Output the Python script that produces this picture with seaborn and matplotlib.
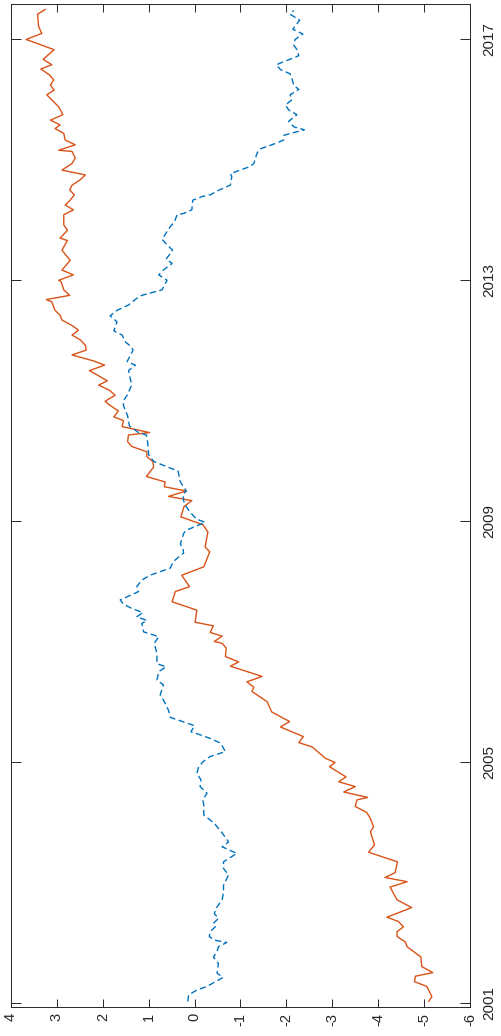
import numpy as np
import matplotlib
matplotlib.use('Agg')
import matplotlib.pyplot as plt
import seaborn as sns

# values (time in decimal years, value on the horizontal scale)
orange_t = [2001.02, 2001.10, 2001.27, 2001.35, 2001.44, 2001.50, 2001.60, 2001.76, 2001.93, 2002.01,
            2002.10, 2002.18, 2002.26, 2002.35, 2002.42, 2002.58, 2002.71, 2002.92, 2003.01, 2003.08,
            2003.16, 2003.23, 2003.34, 2003.50, 2003.62, 2003.84, 2003.92, 2004.06, 2004.16, 2004.26,
            2004.37, 2004.41, 2004.50, 2004.59, 2004.67, 2004.75, 2004.92, 2004.99, 2005.06, 2005.25,
            2005.32, 2005.42, 2005.58, 2005.67, 2005.83, 2006.00, 2006.17, 2006.24, 2006.33, 2006.42,
            2006.59, 2006.66, 2006.75, 2006.89, 2006.97, 2007.00, 2007.09, 2007.15, 2007.26, 2007.32,
            2007.52, 2007.66, 2007.83, 2007.91, 2008.10, 2008.24, 2008.49, 2008.57, 2008.82, 2008.94,
            2009.07, 2009.24, 2009.34, 2009.41, 2009.50, 2009.57, 2009.65, 2009.74, 2009.90, 2009.99,
            2010.07, 2010.15, 2010.24, 2010.32, 2010.43, 2010.47, 2010.57, 2010.67, 2010.73, 2010.83,
            2010.92, 2010.99, 2011.09, 2011.17, 2011.26, 2011.33, 2011.50, 2011.59, 2011.66, 2011.76,
            2011.84, 2011.92, 2012.01, 2012.09, 2012.17, 2012.24, 2012.34, 2012.42, 2012.50, 2012.64,
            2012.68, 2012.75, 2012.84, 2012.98, 2013.00, 2013.09, 2013.17, 2013.33, 2013.50, 2013.66,
            2013.70, 2013.83, 2013.92, 2014.09, 2014.17, 2014.25, 2014.33, 2014.42, 2014.50, 2014.58,
            2014.67, 2014.75, 2014.83, 2014.94, 2015.03, 2015.14, 2015.16, 2015.25, 2015.33, 2015.44,
            2015.52, 2015.58, 2015.66, 2015.75, 2015.88, 2016.08, 2016.16, 2016.24, 2016.33, 2016.41,
            2016.51, 2016.58, 2016.67, 2016.83, 2017.00, 2017.10, 2017.22, 2017.42, 2017.50]
orange_v = [-5.10, -5.17, -5.06, -4.79, -4.81, -5.19, -4.95, -4.93, -4.63, -4.59,
            -4.41, -4.41, -4.55, -4.44, -4.19, -4.73, -4.41, -4.26, -4.63, -4.15,
            -4.37, -4.39, -4.42, -3.79, -3.92, -3.83, -3.90, -3.83, -3.75, -3.50,
            -3.54, -3.77, -3.25, -3.50, -3.14, -3.30, -2.94, -3.06, -2.85, -2.56,
            -2.27, -2.37, -1.87, -2.07, -1.68, -1.58, -1.25, -1.29, -1.14, -1.47,
            -0.78, -0.96, -0.67, -0.69, -0.60, -0.43, -0.60, -0.34, -0.41, -0.01,
            -0.05, 0.49, 0.42, 0.11, 0.28, -0.20, -0.33, -0.23, -0.29, -0.18,
            0.30, 0.23, 0.06, 0.57, 0.18, 0.66, 0.64, 1.05, 0.89, 0.91,
            1.04, 1.04, 1.37, 1.46, 1.44, 0.98, 1.58, 1.55, 1.76, 1.66,
            1.84, 1.95, 1.73, 1.85, 2.09, 1.90, 2.29, 1.96, 2.20, 2.67,
            2.36, 2.38, 2.49, 2.67, 2.53, 2.65, 2.89, 2.93, 3.04, 3.11,
            3.23, 2.72, 2.85, 2.91, 2.96, 2.64, 2.89, 2.71, 2.89, 2.77,
            2.93, 2.77, 2.85, 2.85, 2.64, 2.82, 2.71, 2.62, 2.72, 2.67,
            2.49, 2.38, 2.89, 2.67, 2.60, 2.67, 2.96, 2.60, 2.82, 2.85,
            3.04, 2.93, 3.14, 2.87, 2.96, 3.22, 3.06, 3.14, 3.07, 3.16,
            3.35, 3.11, 3.30, 3.06, 3.67, 3.33, 3.40, 3.42, 3.25]

blue_t = [2001.02, 2001.13, 2001.21, 2001.27, 2001.42, 2001.49, 2001.65, 2001.76, 2001.85, 2001.93,
          2002.00, 2002.04, 2002.10, 2002.18, 2002.26, 2002.32, 2002.40, 2002.48, 2002.57, 2002.71,
          2002.84, 2002.95, 2003.12, 2003.23, 2003.34, 2003.48, 2003.59, 2003.67, 2003.79, 2003.98,
          2004.12, 2004.28, 2004.37, 2004.48, 2004.59, 2004.70, 2004.81, 2004.92, 2005.00, 2005.09,
          2005.17, 2005.31, 2005.39, 2005.48, 2005.50, 2005.60, 2005.74, 2005.86, 2006.03, 2006.11,
          2006.28, 2006.36, 2006.50, 2006.58, 2006.63, 2006.80, 2006.97, 2007.08, 2007.16, 2007.30,
          2007.35, 2007.41, 2007.48, 2007.55, 2007.62, 2007.69, 2007.83, 2007.91, 2008.02, 2008.10,
          2008.22, 2008.33, 2008.47, 2008.54, 2008.62, 2008.79, 2008.84, 2008.90, 2008.98, 2009.03,
          2009.14, 2009.26, 2009.34, 2009.45, 2009.50, 2009.65, 2009.83, 2009.99, 2010.10, 2010.29,
          2010.43, 2010.47, 2010.58, 2010.75, 2010.92, 2011.00, 2011.09, 2011.26, 2011.50, 2011.59,
          2011.65, 2011.84, 2011.90, 2011.98, 2012.09, 2012.16, 2012.31, 2012.41, 2012.50, 2012.59,
          2012.70, 2012.75, 2012.84, 2013.00, 2013.09, 2013.17, 2013.28, 2013.35, 2013.50, 2013.59,
          2013.68, 2013.89, 2013.97, 2014.09, 2014.11, 2014.17, 2014.33, 2014.39, 2014.42, 2014.50,
          2014.58, 2014.72, 2014.77, 2014.89, 2014.94, 2015.11, 2015.18, 2015.28, 2015.33, 2015.41,
          2015.50, 2015.55, 2015.64, 2015.75, 2015.83, 2015.91, 2016.00, 2016.08, 2016.17, 2016.24,
          2016.35, 2016.43, 2016.50, 2016.58, 2016.73, 2016.83, 2016.91, 2017.00, 2017.09, 2017.17,
          2017.32, 2017.42, 2017.48]
blue_v = [0.15, 0.13, -0.05, -0.27, -0.62, -0.49, -0.52, -0.41, -0.49, -0.52,
          -0.70, -0.43, -0.32, -0.34, -0.45, -0.41, -0.52, -0.43, -0.47, -0.60,
          -0.63, -0.63, -0.74, -0.63, -0.63, -0.92, -0.60, -0.74, -0.63, -0.43,
          -0.20, -0.20, -0.18, -0.27, -0.12, -0.14, -0.05, -0.09, -0.18, -0.34,
          -0.67, -0.57, -0.34, -0.01, 0.08, 0.00, 0.53, 0.57, 0.68, 0.75,
          0.68, 0.82, 0.78, 0.62, 0.82, 0.82, 0.88, 0.78, 1.11, 1.15,
          1.04, 1.26, 1.13, 1.37, 1.55, 1.62, 1.22, 1.26, 1.15, 0.97,
          0.53, 0.46, 0.24, 0.25, 0.31, 0.24, 0.20, 0.02, -0.23, -0.05,
          0.09, 0.20, 0.24, 0.25, 0.18, 0.31, 0.36, 0.89, 1.00, 1.02,
          1.05, 1.22, 1.42, 1.46, 1.55, 1.55, 1.47, 1.37, 1.44, 1.29,
          1.47, 1.34, 1.39, 1.51, 1.58, 1.76, 1.69, 1.84, 1.69, 1.44,
          1.26, 1.15, 0.71, 0.60, 0.78, 0.68, 0.49, 0.62, 0.48, 0.60,
          0.71, 0.53, 0.44, 0.38, 0.24, 0.06, 0.04, -0.16, -0.34, -0.54,
          -0.78, -0.81, -0.78, -1.21, -1.29, -1.36, -1.42, -1.79, -1.94, -1.95,
          -2.39, -2.16, -2.05, -2.23, -2.05, -1.98, -2.12, -2.08, -2.27, -2.16,
          -2.12, -2.08, -1.87, -1.78, -2.27, -2.23, -2.16, -2.19, -2.36, -2.14,
          -2.29, -2.08, -2.16]

value_ticks = [4, 3, 2, 1, 0, -1, -2, -3, -4, -5, -6]
year_ticks = [2001, 2005, 2009, 2013, 2017]

sns.set_style('white')
plt.rcParams['font.family'] = ['Liberation Sans', 'DejaVu Sans']

fig = plt.figure(figsize=(5.02, 10.36), dpi=100)
ax = fig.add_axes([0.0219, 0.0283, 0.9143, 0.9676])

sns.lineplot(x=orange_v, y=orange_t, sort=False, estimator=None,
             color='#D95319', linewidth=1.0, ax=ax)
sns.lineplot(x=blue_v, y=blue_t, sort=False, estimator=None,
             color='#0072BD', linewidth=1.0, linestyle=(0, (4.5, 2.5)), ax=ax)

ax.set_xlim(4, -6)
ax.set_ylim(2000.934, 2017.585)
ax.set_xticks(value_ticks)
ax.set_xticklabels([str(v) for v in value_ticks])
ax.set_yticks(year_ticks)
ax.set_yticklabels([str(y) for y in year_ticks])

for side in ['left', 'right', 'top', 'bottom']:
    ax.spines[side].set_visible(True)
    ax.spines[side].set_color('#262626')
    ax.spines[side].set_linewidth(0.7)

ax.tick_params(axis='x', direction='in', top=True, bottom=True, length=6, width=0.7,
               color='#262626', labelsize=10.5, pad=4.5, labelrotation=90, labelcolor='#262626')
ax.tick_params(axis='y', direction='in', left=True, right=True, labelleft=False, labelright=True,
               length=7.5, width=0.7, color='#262626', labelsize=11, pad=9,
               labelrotation=90, labelcolor='#262626')
for lbl in ax.get_yticklabels():
    lbl.set_va('center')

ax.set_xlabel('')
ax.set_ylabel('')
ax.grid(False)

fig.savefig('out.png', dpi=100)
plt.close(fig)
